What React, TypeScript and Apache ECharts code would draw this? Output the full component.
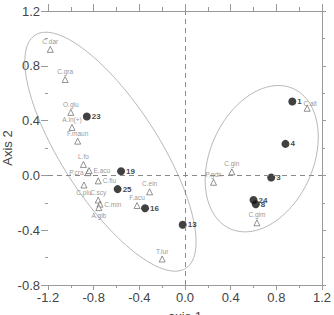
import React, { useEffect, useRef } from "react";
import * as echarts from "echarts";

// Sites (filled circles)
const siteNames = ["23", "19", "25", "16", "13", "3", "24", "8", "4", "1"];
const siteX = [-0.86, -0.56, -0.59, -0.35, -0.02, 0.755, 0.60, 0.62, 0.88, 0.94];
const siteY = [0.43, 0.03, -0.10, -0.24, -0.36, -0.015, -0.18, -0.21, 0.23, 0.54];

// Species (open triangles)
const speciesNames = [
  "C.dar", "C.gra", "O.glu", "A.in(+)", "F.maun", "L.fo", "P.cra", "E.acu",
  "C.flu", "C.plu", "C.scy", "C.min", "A.gib", "F.acu", "C.ein", "T.lur",
  "C.alt", "P.gdn", "C.gin", "C.glm",
];
const speciesX = [
  -1.18, -1.05, -1.0, -0.99, -0.94, -0.89, -0.85, -0.84,
  -0.76, -0.885, -0.76, -0.745, -0.755, -0.42, -0.31, -0.2,
  1.07, 0.25, 0.41, 0.63,
];
const speciesY = [
  0.92, 0.70, 0.46, 0.35, 0.25, 0.08, 0.02, 0.035,
  -0.04, -0.07, -0.18, -0.21, -0.235, -0.22, -0.12, -0.61,
  0.49, -0.05, 0.026, -0.346,
];
const speciesLabelPos = [
  "top", "top", "top", "top", "top", "top", "left", "right",
  "right", "bottom", "top", "right", "bottom", "top", "top", "top",
  "top", "top", "top", "top",
];

// Group ellipses: centre, major semi-axis vector, minor semi-axis vector (data units)
const groupNames = ["KBC", "CCC"];
const ellipseCX = [-0.653, 0.672];
const ellipseCY = [0.173, 0.122];
const ellipseUX = [0.660, 0.275];
const ellipseUY = [-0.851, 0.512];
const ellipseVX = [-0.356, 0.412];
const ellipseVY = [-0.191, -0.152];
const groupLabelX = [-0.53, 0.817];
const groupLabelY = [0.883, 0.737];

const FONT = "Liberation Sans, Arial, sans-serif";

export default function App() {
  const ref = useRef<HTMLDivElement>(null);
  useEffect(() => {
    document.body.style.margin = "0";
    if (!ref.current) return;
    const chart = echarts.init(ref.current, undefined, { renderer: "svg" });
    const fmt = (v: number) => (Math.abs(v) < 1e-9 ? "0.0" : v.toFixed(1));
    const axisColor = "#9a9a9a";

    const ellipseData = groupNames.map((n, i) => ({
      name: n,
      value: [ellipseCX[i], ellipseCY[i], ellipseUX[i], ellipseUY[i], ellipseVX[i], ellipseVY[i]],
    }));

    const option: any = {
      animation: false,
      textStyle: { fontFamily: FONT },
      grid: { left: 48, right: 12, top: 11, bottom: 30, outerBoundsMode: "none", containLabel: false },
      xAxis: [
        {
          type: "value",
          min: -1.2,
          max: 1.2,
          interval: 0.4,
          position: "bottom",
          axisLine: { show: true, onZero: false, lineStyle: { color: axisColor, width: 1 } },
          axisTick: { show: true, inside: false, length: 5, lineStyle: { color: axisColor } },
          minorTick: { show: true, splitNumber: 2, length: 3, lineStyle: { color: axisColor } },
          axisLabel: { fontSize: 13, color: "#444", margin: 6, formatter: fmt, fontFamily: FONT },
          splitLine: { show: false },
          name: "axis 1",
          nameLocation: "middle",
          nameGap: 25,
          nameMoveOverlap: false,
          nameTextStyle: { fontSize: 13, color: "#444", fontFamily: FONT },
        },
        {
          type: "value",
          min: -1.2,
          max: 1.2,
          interval: 0.4,
          position: "top",
          axisLine: { show: true, onZero: false, lineStyle: { color: axisColor, width: 1 } },
          axisTick: { show: true, inside: false, length: 7, lineStyle: { color: axisColor } },
          minorTick: { show: true, splitNumber: 2, length: 4, lineStyle: { color: axisColor } },
          axisLabel: { show: false },
          splitLine: { show: false },
        },
      ],
      yAxis: [
        {
          type: "value",
          min: -0.8,
          max: 1.2,
          interval: 0.4,
          position: "left",
          axisLine: { show: false, onZero: false },
          axisTick: { show: true, inside: false, length: 7, lineStyle: { color: axisColor } },
          minorTick: { show: true, splitNumber: 2, length: 3, lineStyle: { color: axisColor } },
          axisLabel: { fontSize: 13, color: "#444", margin: 8, formatter: fmt, fontFamily: FONT },
          splitLine: { show: false },
          name: "Axis 2",
          nameLocation: "middle",
          nameGap: 34,
          nameMoveOverlap: false,
          nameRotate: 90,
          nameTextStyle: { fontSize: 13, color: "#444", fontFamily: FONT },
        },
        {
          type: "value",
          min: -0.8,
          max: 1.2,
          interval: 0.4,
          position: "right",
          axisLine: { show: true, onZero: false, lineStyle: { color: axisColor, width: 1 } },
          axisTick: { show: true, inside: false, length: 4, lineStyle: { color: axisColor } },
          minorTick: { show: true, splitNumber: 2, length: 3, lineStyle: { color: axisColor } },
          axisLabel: { show: false },
          splitLine: { show: false },
        },
      ],
      series: [
        {
          type: "custom",
          name: "ellipses",
          xAxisIndex: 0,
          yAxisIndex: 0,
          silent: true,
          clip: false,
          encode: { x: 0, y: 1 },
          data: ellipseData,
          renderItem: (params: any, api: any) => {
            const cx = api.value(0), cy = api.value(1);
            const c = api.coord([cx, cy]);
            const pu = api.coord([cx + api.value(2), cy + api.value(3)]);
            const pv = api.coord([cx + api.value(4), cy + api.value(5)]);
            const u = [pu[0] - c[0], pu[1] - c[1]];
            const v = [pv[0] - c[0], pv[1] - c[1]];
            const pts: number[][] = [];
            const n = 120;
            for (let k = 0; k <= n; k++) {
              const t = (2 * Math.PI * k) / n;
              pts.push([
                c[0] + u[0] * Math.cos(t) + v[0] * Math.sin(t),
                c[1] + u[1] * Math.cos(t) + v[1] * Math.sin(t),
              ]);
            }
            return {
              type: "polyline",
              shape: { points: pts },
              style: { fill: "none", stroke: "#999", lineWidth: 0.7 },
            };
          },
        },
        {
          type: "scatter",
          name: "species",
          xAxisIndex: 0,
          yAxisIndex: 0,
          symbol: "triangle",
          symbolSize: 6,
          itemStyle: { color: "#ffffff", borderColor: "#555", borderWidth: 0.8 },
          data: speciesNames.map((n, i) => ({
            name: n,
            value: [speciesX[i], speciesY[i]],
            label: {
              show: true,
              position: speciesLabelPos[i],
              distance: 1,
              offset: n === "C.alt" ? [3, 3] : [0, 0],
              formatter: n,
              fontSize: 6.5,
              color: "#7a7a7a",
              fontFamily: FONT,
            },
          })),
        },
        {
          type: "scatter",
          name: "sites",
          xAxisIndex: 0,
          yAxisIndex: 0,
          symbol: "circle",
          symbolSize: 8,
          itemStyle: { color: "#111" },
          label: {
            show: true,
            position: "right",
            distance: 1,
            formatter: (p: any) => p.name,
            fontSize: 8,
            fontWeight: "bold",
            color: "#111",
            fontFamily: FONT,
          },
          data: siteNames.map((n, i) => ({ name: n, value: [siteX[i], siteY[i]] })),
          markLine: {
            silent: true,
            symbol: "none",
            label: { show: false },
            lineStyle: { color: "#8a8a8a", type: [5, 4], width: 1 },
            data: [{ xAxis: 0 }, { yAxis: 0 }],
          },
          z: 3,
        },
        {
          type: "scatter",
          name: "groups",
          xAxisIndex: 0,
          yAxisIndex: 0,
          symbol: "none",
          silent: true,
          label: {
            show: true,
            position: "inside",
            formatter: (p: any) => p.name,
            fontSize: 13,
            color: "#333",
            fontFamily: FONT,
          },
          data: groupNames.map((n, i) => ({ name: n, value: [groupLabelX[i], groupLabelY[i]] })),
        },
      ],
    };
    chart.setOption(option);
    return () => chart.dispose();
  }, []);
  return <div ref={ref} style={{ width: 334, height: 315 }} />;
}
